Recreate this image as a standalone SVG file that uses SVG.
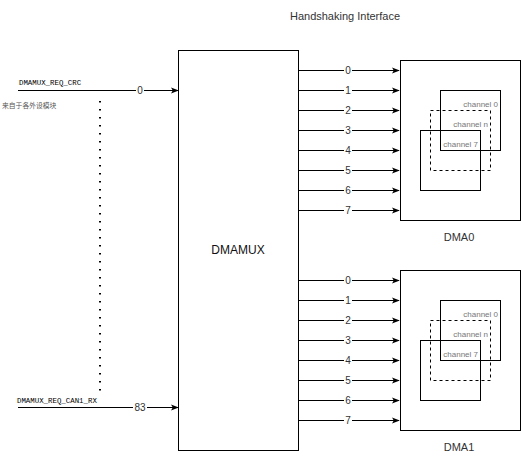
<svg xmlns="http://www.w3.org/2000/svg" width="521" height="460" viewBox="0 0 521 460">
<style>
.box{fill:#fff;stroke:#000;stroke-width:1}
.ch{fill:none;stroke:#000;stroke-width:1}
.dash{stroke-dasharray:3 3}
.ln{stroke:#000;stroke-width:1;fill:none}
.lbl{font-family:"Liberation Sans",Arial,sans-serif;font-size:10px;fill:#333;text-anchor:middle}
.chl{font-family:"Liberation Sans",Arial,sans-serif;font-size:8px;fill:#777;text-anchor:end}
.sig{font-family:"Liberation Mono","DejaVu Sans Mono",monospace;font-size:7.4px;fill:#000}
.title{font-family:"Liberation Sans",Arial,sans-serif;font-size:11px;fill:#333;text-anchor:middle}
.big{font-family:"Liberation Sans",Arial,sans-serif;font-size:12px;fill:#111;text-anchor:middle}
.lbg{fill:#fff}
</style>
<defs>
<marker id="arr" viewBox="0 0 10 10" refX="9" refY="5" markerWidth="8" markerHeight="8" markerUnits="userSpaceOnUse" orient="auto">
<path d="M0,1 L10,5 L0,9 L2.5,5 Z" fill="#000"/>
</marker>
<g id="dmaInner">
<rect class="ch" x="440.5" y="90.5" width="60" height="60"/>
<rect class="ch dash" x="430.5" y="110.5" width="60" height="60"/>
<rect class="ch" x="420.5" y="130.5" width="60" height="60"/>
<text class="chl" x="498" y="106.5">channel 0</text>
<text class="chl" x="488" y="126.5">channel n</text>
<text class="chl" x="478" y="146.5">channel 7</text>
</g>
</defs>
<rect width="521" height="460" fill="#fff"/>
<text class="title" x="345" y="20">Handshaking Interface</text>

<g id="dmamux">
<rect class="box" x="178.5" y="50.5" width="120" height="400"/>
<text class="big" x="238" y="254">DMAMUX</text>
</g>

<g id="dma0">
<rect class="box" x="400.5" y="60.5" width="120" height="160"/>
<use href="#dmaInner"/>
<text class="lbl" x="459" y="241" style="font-size:11px">DMA0</text>
</g>

<g id="dma1">
<rect class="box" x="400.5" y="270.5" width="120" height="160"/>
<use href="#dmaInner" y="210"/>
<text class="lbl" x="459" y="451" style="font-size:11px">DMA1</text>
</g>

<g id="sources">
<text class="sig" x="19" y="85">DMAMUX_REQ_CRC</text>
<text x="2" y="108" style="font-family:'Noto Sans CJK SC',sans-serif;font-size:6.8px;fill:#555">来自于各外设模块</text>
<text class="sig" x="17" y="403">DMAMUX_REQ_CAN1_RX</text>
</g>

<g id="connectors">
<line x1="100" y1="101" x2="100" y2="391" stroke="#000" stroke-width="2" stroke-dasharray="1.6 6.4"/>
<line class="ln" x1="18" y1="90.5" x2="178" y2="90.5" marker-end="url(#arr)"/>
<rect class="lbg" x="136" y="85" width="8" height="11"/>
<text class="lbl" x="140" y="94">0</text>
<line class="ln" x1="18" y1="407.5" x2="178" y2="407.5" marker-end="url(#arr)"/>
<rect class="lbg" x="133" y="402" width="14" height="11"/>
<text class="lbl" x="140" y="411">83</text>

<g id="out0">
<line class="ln" x1="299" y1="70.5" x2="399" y2="70.5" marker-end="url(#arr)"/>
<line class="ln" x1="299" y1="90.5" x2="399" y2="90.5" marker-end="url(#arr)"/>
<line class="ln" x1="299" y1="110.5" x2="399" y2="110.5" marker-end="url(#arr)"/>
<line class="ln" x1="299" y1="130.5" x2="399" y2="130.5" marker-end="url(#arr)"/>
<line class="ln" x1="299" y1="150.5" x2="399" y2="150.5" marker-end="url(#arr)"/>
<line class="ln" x1="299" y1="170.5" x2="399" y2="170.5" marker-end="url(#arr)"/>
<line class="ln" x1="299" y1="190.5" x2="399" y2="190.5" marker-end="url(#arr)"/>
<line class="ln" x1="299" y1="210.5" x2="399" y2="210.5" marker-end="url(#arr)"/>
<rect class="lbg" x="344" y="64" width="8" height="150"/>
<text class="lbl" x="348" y="74">0</text>
<text class="lbl" x="348" y="94">1</text>
<text class="lbl" x="348" y="114">2</text>
<text class="lbl" x="348" y="134">3</text>
<text class="lbl" x="348" y="154">4</text>
<text class="lbl" x="348" y="174">5</text>
<text class="lbl" x="348" y="194">6</text>
<text class="lbl" x="348" y="214">7</text>
</g>
<g id="out1">
<line class="ln" x1="299" y1="280.5" x2="399" y2="280.5" marker-end="url(#arr)"/>
<line class="ln" x1="299" y1="300.5" x2="399" y2="300.5" marker-end="url(#arr)"/>
<line class="ln" x1="299" y1="320.5" x2="399" y2="320.5" marker-end="url(#arr)"/>
<line class="ln" x1="299" y1="340.5" x2="399" y2="340.5" marker-end="url(#arr)"/>
<line class="ln" x1="299" y1="360.5" x2="399" y2="360.5" marker-end="url(#arr)"/>
<line class="ln" x1="299" y1="380.5" x2="399" y2="380.5" marker-end="url(#arr)"/>
<line class="ln" x1="299" y1="400.5" x2="399" y2="400.5" marker-end="url(#arr)"/>
<line class="ln" x1="299" y1="420.5" x2="399" y2="420.5" marker-end="url(#arr)"/>
<rect class="lbg" x="344" y="274" width="8" height="150"/>
<text class="lbl" x="348" y="284">0</text>
<text class="lbl" x="348" y="304">1</text>
<text class="lbl" x="348" y="324">2</text>
<text class="lbl" x="348" y="344">3</text>
<text class="lbl" x="348" y="364">4</text>
<text class="lbl" x="348" y="384">5</text>
<text class="lbl" x="348" y="404">6</text>
<text class="lbl" x="348" y="424">7</text>
</g>
</g>
</svg>
